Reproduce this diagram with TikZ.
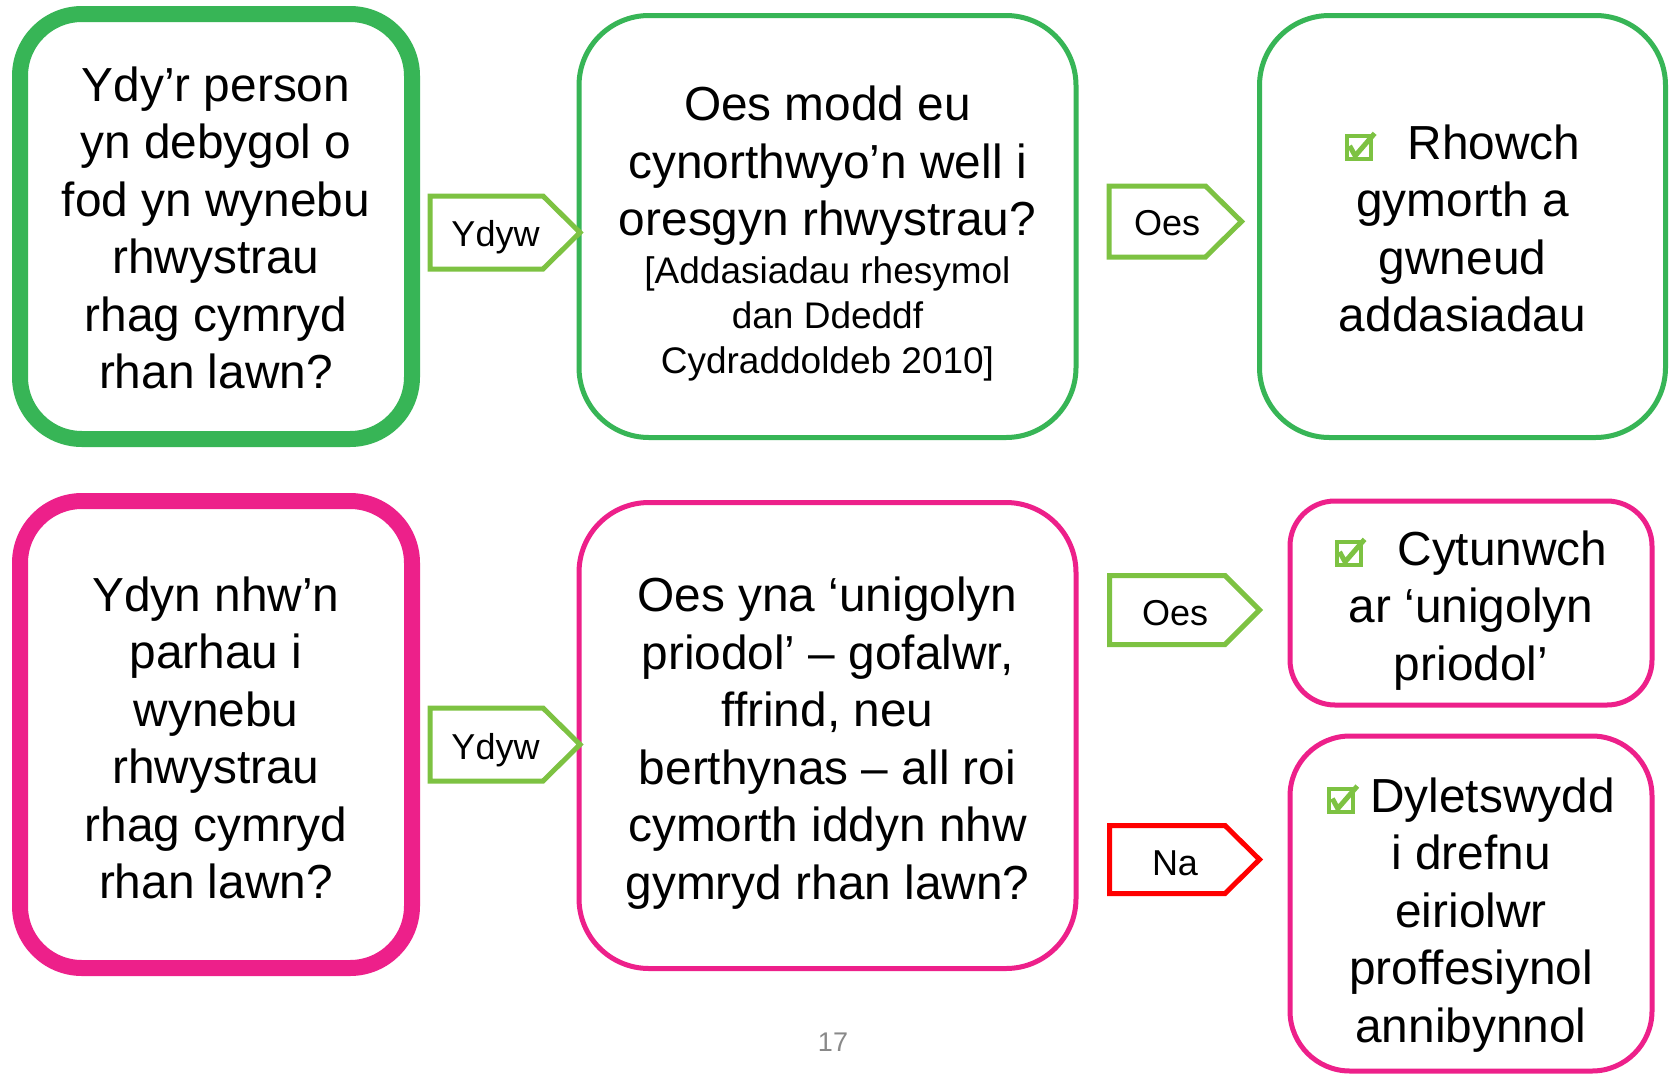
\documentclass[tikz,border=0pt]{standalone}
\usepackage{fontspec}
\setmainfont{Liberation Sans}
\definecolor{gr}{RGB}{55,181,86}
\definecolor{pk}{RGB}{237,32,138}
\definecolor{lg}{RGB}{125,194,66}
\definecolor{rd}{RGB}{255,0,0}
\definecolor{pgnum}{RGB}{137,137,137}
\newcommand\bigsz{\fontsize{47.8}{57.5}\selectfont}
\newcommand\smlsz{\fontsize{37}{45.3}\selectfont}
\newcommand\labsz{\fontsize{36}{43}\selectfont}
\newcommand\chkbox{\tikz[baseline=2pt,x=1pt,y=1pt]{\useasboundingbox (0,0) rectangle (28,27);
  \draw[draw=lg,line width=4pt] (2,2) rectangle (26,25);
  \draw[draw=lg,line width=5pt,line join=miter] (5,15.5) -- (10.5,5.5) -- (30,28);}}
\begin{document}
\begin{tikzpicture}[x=1pt,y=-1pt,
  box/.style={draw, rectangle, inner sep=0pt},
  thickbox/.style={box, line width=16pt, rounded corners=62pt},
  thinbox/.style={box, line width=5pt},
  txt/.style={inner sep=0pt, align=center, font=\bigsz, text=black},
  chev/.style={line width=5pt, line join=miter},
  lab/.style={inner sep=0pt, font=\labsz, text=black}
]
\fill[white] (0,0) rectangle (1673,1074);
\useasboundingbox (0,0) rectangle (1673,1074);

% top row
\node[thickbox, draw=gr, minimum width=392pt, minimum height=425pt] (b1) at (216,226.5) {};
\node[txt] (b1t) at (216,228)
  {Ydy’r person\\yn debygol o\\fod yn wynebu\\rhwystrau\\rhag cymryd\\rhan lawn?};
\node[thinbox, draw=gr, rounded corners=70pt, minimum width=497pt, minimum height=422pt] (b2) at (827.5,226.5) {};
\node[txt] (b2t) at (827.5,165.8)
  {Oes modd eu\\cynorthwyo’n well i\\oresgyn rhwystrau?};
\node[txt, font=\smlsz] (b2s) at (827.5,319)
  {[Addasiadau rhesymol\\dan Ddeddf\\Cydraddoldeb 2010]};
\node[thinbox, draw=gr, rounded corners=70pt, minimum width=406pt, minimum height=422pt] (b3) at (1462.5,226.5) {};
\node[txt] (b3t) at (1462.5,228.5)
  {\chkbox\hspace{35pt}Rhowch\\gymorth a\\gwneud\\addasiadau};

% bottom row
\node[thickbox, draw=pk, minimum width=392pt, minimum height=467pt] (b4) at (216,734.5) {};
\node[txt] (b4t) at (216,738)
  {Ydyn nhw’n\\parhau i\\wynebu\\rhwystrau\\rhag cymryd\\rhan lawn?};
\node[thinbox, draw=pk, rounded corners=70pt, minimum width=497pt, minimum height=466pt] (b5) at (827.5,735.5) {};
\node[txt] (b5t) at (827.5,743)
  {Oes yna ‘unigolyn\\priodol’ – gofalwr,\\ffrind, neu\\berthynas – all roi\\cymorth iddyn nhw\\gymryd rhan lawn?};
\node[thinbox, draw=pk, rounded corners=45pt, minimum width=362pt, minimum height=204pt] (b6) at (1471,603) {};
\node[txt] (b6t) at (1471,610.5)
  {\chkbox\hspace{35pt}Cytunwch\\ar ‘unigolyn\\priodol’};
\node[thinbox, draw=pk, rounded corners=60pt, minimum width=362pt, minimum height=335pt] (b7) at (1471,903.5) {};
\node[txt] (b7t) at (1471,914.7)
  {\chkbox\hspace{15pt}Dyletswydd\\i drefnu\\eiriolwr\\proffesiynol\\annibynnol};

% chevron labels
\draw[chev, draw=lg, fill=white] (430,196) -- (543,196) -- (580,232.5) -- (543,269) -- (430,269) -- cycle;
\node[lab] (y1) at (495.5,237.3) {Ydyw};
\draw[chev, draw=lg, fill=white] (430,708) -- (543,708) -- (580,744.5) -- (543,781) -- (430,781) -- cycle;
\node[lab] (y2) at (495.5,750.3) {Ydyw};
\draw[chev, draw=lg, fill=white] (1109,186) -- (1205.5,186) -- (1241.5,221.5) -- (1205.5,257) -- (1109,257) -- cycle;
\node[lab] (o1) at (1167,223) {Oes};
\draw[chev, draw=lg, fill=white] (1109.5,575.5) -- (1225,575.5) -- (1259.5,610) -- (1225,644.5) -- (1109.5,644.5) -- cycle;
\node[lab] (o2) at (1175,613) {Oes};
\draw[chev, draw=rd, fill=white] (1109.5,825.5) -- (1225,825.5) -- (1259.5,859.5) -- (1225,893.5) -- (1109.5,893.5) -- cycle;
\node[lab] (n1) at (1175,863) {Na};

% page number
\node[inner sep=0pt, font=\fontsize{27}{32}\selectfont, text=pgnum] (pg) at (833,1042) {17};
\end{tikzpicture}
\end{document}
